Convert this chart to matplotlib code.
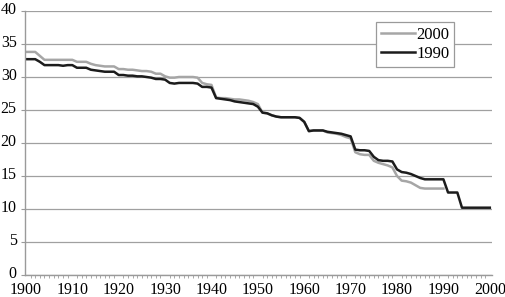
"""Two-vintage decline series, 1900-2000, redrawn from the reference."""

import numpy as np
import matplotlib
matplotlib.use("Agg")
import matplotlib.pyplot as plt
from matplotlib.ticker import MultipleLocator
from matplotlib.transforms import ScaledTranslation

years_2000 = np.arange(1900, 1991)
values_2000 = [
    33.8, 33.8, 33.8, 33.2, 32.6, 32.6, 32.6, 32.6, 32.6, 32.6,
    32.6, 32.3, 32.3, 32.3, 32.0, 31.8, 31.7, 31.6, 31.6, 31.6,
    31.2, 31.2, 31.1, 31.1, 31.0, 30.9, 30.9, 30.8, 30.5, 30.5,
    30.1, 29.9, 29.9, 30.0, 30.0, 30.0, 30.0, 29.9, 29.1, 28.9,
    28.8, 26.9, 26.8, 26.8, 26.7, 26.6, 26.6, 26.5, 26.4, 26.2,
    25.9, 24.6, 24.5, 24.2, 24.0, 23.9, 23.9, 23.9, 23.9, 23.8,
    23.2, 21.8, 21.9, 21.9, 21.9, 21.6, 21.5, 21.4, 21.2, 20.9,
    20.7, 18.6, 18.3, 18.2, 18.2, 17.3, 17.0, 16.8, 16.6, 16.3,
    15.0, 14.3, 14.2, 14.0, 13.6, 13.2, 13.1, 13.1, 13.1, 13.1,
    13.1,
]

years_1990 = np.arange(1900, 2001)
values_1990 = [
    32.7, 32.7, 32.7, 32.3, 31.8, 31.8, 31.8, 31.8, 31.7, 31.8,
    31.8, 31.4, 31.4, 31.4, 31.1, 31.0, 30.9, 30.8, 30.8, 30.8,
    30.3, 30.3, 30.2, 30.2, 30.1, 30.1, 30.0, 29.9, 29.7, 29.7,
    29.6, 29.1, 29.0, 29.1, 29.1, 29.1, 29.1, 29.0, 28.5, 28.5,
    28.4, 26.8, 26.7, 26.6, 26.5, 26.3, 26.2, 26.1, 26.0, 25.9,
    25.5, 24.6, 24.5, 24.2, 24.0, 23.9, 23.9, 23.9, 23.9, 23.8,
    23.2, 21.8, 21.9, 21.9, 21.9, 21.7, 21.6, 21.5, 21.4, 21.2,
    21.0, 19.0, 18.9, 18.9, 18.8, 17.9, 17.4, 17.3, 17.3, 17.2,
    16.0, 15.6, 15.5, 15.3, 15.0, 14.7, 14.5, 14.5, 14.5, 14.5,
    14.5, 12.5, 12.5, 12.5, 10.2, 10.2, 10.2, 10.2, 10.2, 10.2,
    10.2,
]

x_ticks = np.arange(1900, 2001, 10)
y_ticks = np.arange(0, 41, 5)

plt.rcParams["font.family"] = ["Liberation Serif", "DejaVu Serif"]

figure = plt.figure(figsize=(5.05, 2.97), dpi=100)
axis = figure.add_axes([0.0495, 0.074, 0.925, 0.889])

axis.plot(years_2000, values_2000, color="#a6a6a6", linewidth=1.8, label="2000",
          solid_joinstyle="round")
axis.plot(years_1990, values_1990, color="#1c1c1c", linewidth=1.8, label="1990",
          solid_joinstyle="round")

axis.set_xlim(1899.8, 2000.5)
axis.set_ylim(0, 40)
axis.set_xticks(x_ticks)
axis.set_yticks(y_ticks, [str(v) for v in y_ticks])
axis.xaxis.set_minor_locator(MultipleLocator(1))
axis.yaxis.grid(True, color="#a0a0a0", linewidth=0.9)
axis.set_axisbelow(True)

for side in ("top", "right"):
    axis.spines[side].set_visible(False)
for side in ("left", "bottom"):
    axis.spines[side].set_color("#9a9a9a")
    axis.spines[side].set_linewidth(1.0)

axis.tick_params(axis="x", which="major", length=0, pad=5, labelsize=11.5)
axis.tick_params(axis="x", which="minor", length=2.5, color="#9a9a9a", direction="out")
axis.tick_params(axis="y", length=3, color="#9a9a9a", pad=3, labelsize=11.5)
# y labels sit a little above their gridlines in the reference
lift = ScaledTranslation(0, 2 / 72, figure.dpi_scale_trans)
for label in axis.get_yticklabels():
    label.set_transform(label.get_transform() + lift)

legend = axis.legend(loc="upper left", bbox_to_anchor=(0.752, 0.96), frameon=True,
                     fancybox=False, edgecolor="#9a9a9a", fontsize=12,
                     handlelength=2.0, handletextpad=0.1, borderpad=0.3,
                     labelspacing=0.2, framealpha=1, borderaxespad=0)
legend.get_frame().set_linewidth(0.9)

figure.savefig("out.png", dpi=100)
